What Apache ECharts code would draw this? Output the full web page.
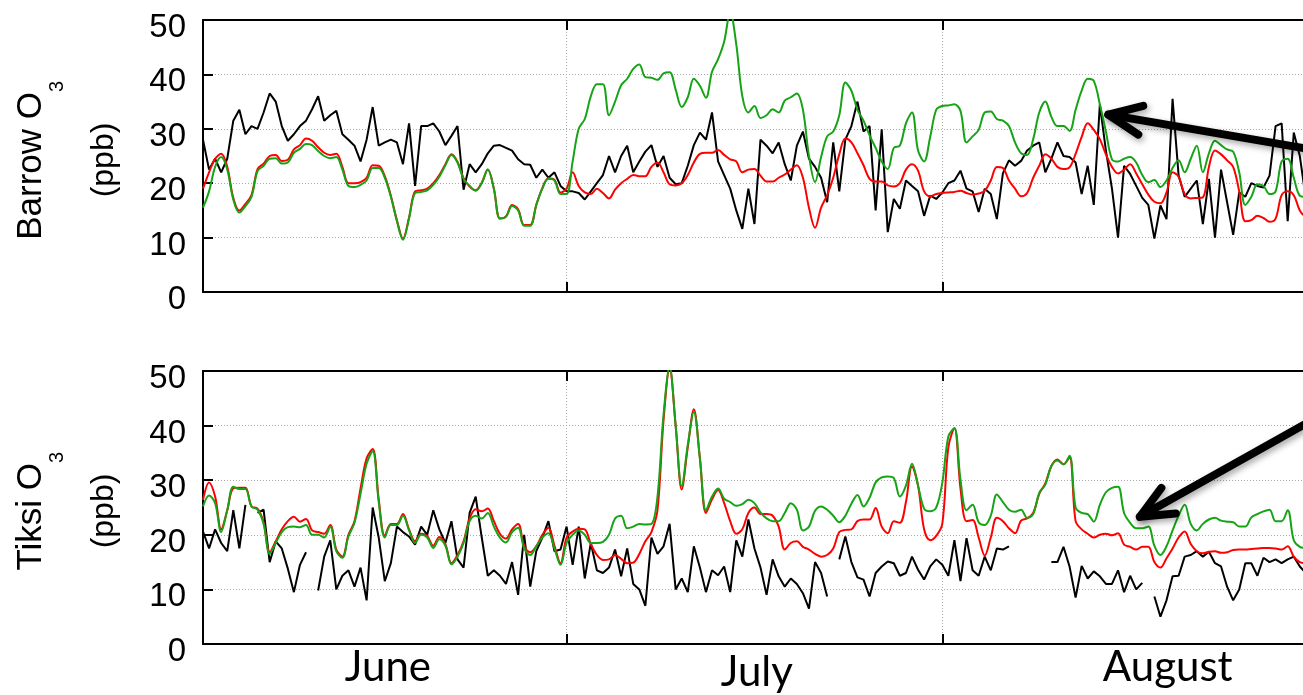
<!DOCTYPE html>
<html lang="en">

<head>
  <meta charset="UTF-8" />
  <title>Barrow / Tiksi O3</title>
  <style>
    html, body { margin: 0; padding: 0; background: #fff; }
    #main { width: 1303px; height: 695px; }
  </style>
</head>

<body>
  <div id="main"></div>
  <script src="https://cdn.jsdelivr.net/npm/echarts@6/dist/echarts.min.js"></script>
  <script type="text/javascript">
    // x = days since 1 June, one value every half day
    var STEP = 0.5

    var monthTicks = [30, 61]                 // 1 July, 1 August
    var monthPos = [15.26, 45.7, 79.6]        // where the month names sit
    var monthNames = ['June', 'July', 'August']

    // Barrow
    var barrowObs = [
      28, 22.5, 24.5, 22, 24.5, 31.5, 33.5, 29, 30.5, 30,
      33, 36.5, 35, 30.5, 27.8, 29, 30.5, 31.5, 33.6, 36,
      31.5, 32.5, 33.3, 29, 28, 26.9, 24, 28, 34, 26.9,
      27.5, 28, 27.5, 23.5, 31, 19.5, 30.5, 30.5, 31, 29.5,
      27, 28.7, 30.5, 18.8, 23.5, 22, 23.5, 25.5, 26.9, 27,
      26.5, 26, 24.4, 23.5, 23.4, 21, 22.5, 21, 22, 19.5,
      18.5, 18.5, 18.2, 17, 18.5, 20, 21.5, 25, 22, 25,
      26.9, 22, 24, 25.8, 27, 23, 25, 21, 19.8, 20,
      23.2, 27, 29.3, 28, 33, 24, 21.5, 19, 15, 11.6,
      19, 12.5, 28, 26.9, 25.5, 27.5, 23.5, 20.5, 26.9, 29.5,
      24.5, 23, 21, 16.5, 27.5, 18.5, 28, 30.5, 35, 29.5,
      30.5, 15, 29.9, 11, 17.1, 15.3, 20.5, 19.5, 18.5, 14,
      17.7, 17.1, 18.3, 20, 20.5, 22.3, 19, 18.5, 14.7, 19,
      18, 13.4, 21.8, 24.2, 23.2, 24.1, 26, 26.9, 27.5, 22,
      24.5, 27.5, 25, 24.8, 23.8, 18, 23.2, 16, 34.5, 26,
      19, 10, 23.2, 21.7, 19.5, 17.3, 16, 9.8, 15.9, 13.4,
      35.5, 21.4, 17.5, 19, 20.5, 12.5, 20.8, 10, 22.5, 16.5,
      10.5, 18.3, 17.5, 20, 19.5, 19.2, 21.4, 30.5, 31, 13,
      29.3, 25, 17, 18
    ]
    var barrowRed = [
      19, 22, 24.5, 25.4, 23, 17.3, 15, 16.2, 17.8, 22.6,
      23.6, 25, 25.2, 24.1, 24.3, 26.2, 27, 28.2, 27.8, 26.6,
      25.6, 25.2, 25.4, 23, 20, 20, 20.2, 21, 23.3, 23.2,
      21.3, 17.7, 13.2, 9.8, 13.7, 18.5, 18.7, 19, 20, 21.5,
      23.5, 25.3, 23.9, 20.9, 19.4, 18.7, 20.1, 22.5, 19, 13.5,
      13.9, 16, 15.2, 12.3, 12.3, 16, 19.1, 20.9, 20.6, 18.3,
      19, 22, 19.5, 18.3, 18, 19, 18.2, 17.2, 18.8, 20,
      20.8, 21.5, 21.3, 21.3, 23, 23.8, 22, 19.8, 19.6, 20,
      21.5, 23.8, 25.4, 25.6, 25.6, 26.1, 25.2, 24.4, 24, 22,
      22.5, 22.6, 21.4, 20.3, 20.3, 21, 21.6, 22.5, 23.3, 21,
      15.5, 11.8, 15.5, 17.8, 21, 25.3, 28.2, 27.5, 25.5, 23.3,
      20.8, 20.3, 20.3, 19.6, 19.4, 20, 22.5, 23.5, 22.3, 18.5,
      17.6, 18, 18.2, 18.3, 18.4, 18.6, 18.2, 17.9, 18.1, 18.6,
      20.5, 23, 22.8, 20.5, 19, 17.6, 18.2, 21, 23.2, 25.3,
      24.5, 23, 22.6, 22.9, 25.4, 28.5, 31, 29.8, 28.1, 25.3,
      23, 21.8, 22.5, 23.5, 21.8, 19.8, 17.9, 16.6, 16.3, 18.3,
      22, 21.2, 18, 17.2, 17.3, 17.4, 23, 26, 25.3, 24.2,
      23, 18.5, 13, 13.2, 14, 13.6, 12.9, 13.5, 17.8, 18.5,
      17.8, 15, 13.8, 13.5
    ]
    var barrowGreen = [
      15.5, 18.5, 23, 24.8, 22.5, 17, 14.6, 15.8, 17.5, 22.2,
      23.2, 24.5, 24.6, 23.6, 23.8, 25.6, 26.3, 27.2, 27, 25.9,
      25, 24.6, 24.8, 22.5, 19.5, 19.3, 19.7, 20.5, 22.8, 22.8,
      21, 17.5, 13, 9.6, 13.5, 18.2, 18.4, 18.7, 19.7, 21.2,
      23.3, 25.2, 23.8, 20.8, 19.5, 18.6, 20, 22.5, 19, 13.5,
      13.8, 15.8, 15, 12.2, 12.2, 16, 19, 20.8, 20.5, 18,
      18, 24, 30, 31.8, 36, 38.2, 38.2, 32.5, 35, 38,
      39.2, 41, 41.8, 39.5, 39.4, 39, 40.2, 40.4, 37.2, 34,
      35.8, 39.2, 37.9, 35.7, 40.5, 42.8, 46, 51.5, 45.5, 36,
      33, 34.2, 32, 32.5, 33.6, 33, 35.2, 35.8, 36.5, 33.5,
      25, 20.2, 24.8, 28.6, 29.5, 32.5, 38.5, 37, 33.5, 31.5,
      28.8, 26.5, 24, 22.6, 26.5, 26.9, 31, 33, 26, 24,
      28.5, 33.5, 34.2, 34.3, 34.5, 33.3, 27.5, 28.6, 29.8, 33,
      33.2, 31.8, 31.5, 30.5, 27.5, 25.5, 25.2, 28.1, 33, 35,
      32.2, 30.5, 30.5, 29.6, 33.5, 37, 39.2, 38.8, 34.5, 29.5,
      24.4, 24, 24.5, 24.8, 23.8, 21.5, 20.2, 20.6, 19.3, 20.5,
      22.8, 24.2, 22, 24.5, 26.9, 22, 25.5, 27.8, 27, 26.2,
      25.8, 22, 16, 17.5, 19.8, 19.5, 18, 18.5, 24, 24.5,
      21, 17.7, 17.5, 17.5
    ]

    // Tiksi
    var tiksiObs = [
      20.6, 17.5, 21, 18.5, 17, 24.5, 17.5, 25.5, null, 24,
      24.6, 15, 18.8, 17.5, 13.8, 9.5, 14.5, 16.8, null, 9.8,
      16, 19, 10, 12.5, 13.5, 10.5, 14, 8, 25, 19.5,
      11.5, 14.8, 21.5, 20.5, 19.7, 18.2, 21.5, 20, 24.5, 21,
      18.5, 22.5, 15.5, 14, 24, 27, 19.5, 12.5, 13.5, 12.5,
      11, 15, 9, 20, 10.5, 17, 19.5, 22.5, 17, 17.3,
      21.5, 14.5, 21.5, 12, 18.5, 13.5, 13, 14, 17.3, 12.4,
      17.5, 11, 10, 7, 19.5, 16.5, 17.9, 22, 10, 12,
      9.5, 17.9, 14, 9.5, 13.5, 12.6, 14.2, 9.5, 19, 16,
      22.8, 17.5, 14, 9, 15.5, 12.4, 10.5, 12, 11, 9.3,
      6.5, 15, 13, 8.7, null, 15.5, 19.7, 15, 12.2, 11.8,
      8.7, 13, 14.2, 15.1, 14.8, 12.5, 13, 16, 13.6, 11.8,
      14.2, 15.5, 14.5, 12.5, 19, 11.5, 19.4, 13.5, 12.5, 16,
      13.5, 17.5, 17.3, 17.9, null, null, null, null, null, null,
      15, 15, 17.8, 14.2, 8.5, 14.3, 12, 13.3, 12.4, 11,
      11, 13.5, 9.5, 12.5, 10, 11.2, null, 8.7, 5, 8,
      12.4, 12.5, 16, 16.3, 17, 16, 16.9, 14.8, 14.2, 10.5,
      8, 10, 14.8, 14.8, 12.5, 15.8, 15, 15.5, 14.8, 15.5,
      16, 14.2, 13, 13.5
    ]
    var tiksiRed = [
      26.4, 29.6, 27, 21, 24.5, 28.5, 28.6, 28.6, 25.2, 24.8,
      22.3, 16.8, 18.8, 21, 22.5, 23.3, 22.4, 22.9, 20.8, 20.5,
      20.2, 21.8, 17.3, 16, 20, 22.5, 28.5, 34, 35.7, 26.5,
      19.8, 22, 22, 23.8, 21, 18.8, 20.2, 19.8, 18, 19.6,
      18.3, 14.8, 16.3, 18.8, 23, 24.7, 24.3, 24.8, 22.5, 20.2,
      19.3, 21, 22, 18, 16.8, 17.9, 20, 21.3, 18, 14.8,
      19.5, 20.6, 21.1, 21, 18.3, 16.3, 15.4, 15.5, 16.3, 15.6,
      14.8, 14.9, 16.5, 18.8, 20.5, 24.5, 41, 50.5, 40, 28.3,
      36, 43, 34, 24, 26.5, 28.2, 25.8, 22.5, 20.2, 21,
      24, 25, 23.8, 23.8, 23.5, 21.5, 17.3, 18.5, 18.8, 17.8,
      17.3, 16.5, 16, 16.3, 17.5, 20.5, 20.9, 21, 22.5, 22.8,
      22.8, 24.9, 21.5, 20.3, 22.5, 22.2, 26, 32.5, 29, 21,
      19, 19.8, 22, 36, 39.5, 28.5, 22.5, 22.7, 19.5, 16.2,
      19.5, 23.1, 22.5, 21.2, 20.3, 22.6, 23, 24, 27.5, 29.4,
      32.6, 33.8, 32.9, 34.2, 22.5, 21, 20.2, 19.5, 20, 20.2,
      19.9, 20.3, 18.2, 17.8, 17.3, 17.8, 17.8, 15, 14, 15.7,
      17.5, 19.5, 20.6, 18.3, 17, 16.6, 16.9, 17, 16.7, 16.8,
      17.2, 17.3, 17.3, 17.4, 17.5, 17.6, 17.6, 17.5, 17.3, 17.9,
      16, 15, 14.8, 14.6
    ]
    var tiksiGreen = [
      25.2, 27.2, 25.8, 20.5, 24.5, 28.8, 28.4, 28.4, 25.2, 24.6,
      22, 16.5, 18.5, 20.5, 21.4, 21.5, 21.4, 21.8, 20, 20,
      19.5, 21.5, 17, 15.8, 19.7, 22.2, 27.5, 33, 35.3, 26,
      19.5, 21.8, 21.8, 23.5, 20.8, 18.5, 20, 19.5, 17.6, 19.2,
      18, 14.6, 16, 18.5, 22.5, 23.5, 23, 24, 21.5, 19.5,
      18.6, 20.5, 21.3, 17.5, 16.3, 17.9, 19.5, 20.3, 17.5, 14.5,
      18.5, 20, 20.8, 20, 18.5, 18.5, 18.7, 20, 23, 23.5,
      21.2, 21.5, 22, 21.9, 22, 27, 42, 50.8, 40, 28.9,
      36.5, 42.5, 34, 24.5, 27, 28.5, 26.6, 26, 25.3, 25.6,
      26.4, 25.8, 24.1, 23, 22.5, 22.5, 24, 25.8, 24.6, 20.8,
      21.5, 24.4, 25.2, 24.6, 23.5, 22.3, 23.5, 25.7, 27.3, 25.2,
      26.8, 29.6, 30.5, 30.7, 30.4, 27, 29, 33, 29, 24.8,
      24.3, 25, 29.5, 38, 39.5, 30.1, 24.5, 25.5, 22.3, 21.8,
      23.5, 27.4, 26, 24.6, 24.2, 24.6, 23.1, 23.8, 27.7, 29.2,
      32.6, 33.6, 32.9, 34.5, 25, 24, 23.8, 22.4, 25.5, 27.8,
      28.6, 28.8, 24, 22.2, 21.2, 21.2, 21.5, 18, 16.3, 17.9,
      20.8, 23.5, 25.5, 22, 20.8, 22, 22.8, 23.1, 22.6, 22.4,
      22.3, 21.5, 21.5, 23.2, 23.8, 24.3, 24.6, 22.5, 22.5, 24.5,
      19, 17.8, 17.6, 17.5
    ]

    // arrows, [tail, tip] in (day, ppb)
    var arrowBarrow = [[92, 26.0], [74.7, 32.6]]
    var arrowTiksi = [[92, 41.6], [77.3, 23.3]]

    function pairs(vals) {
      return vals.map((v, i) => [i * STEP, v])
    }

    var container = document.getElementById('main')
    var myChart = echarts.init(container)

    var frame = { lineStyle: { color: '#000', width: 2 } }
    var dotted = { show: true, lineStyle: { color: '#aaa', type: [1, 2], width: 1 } }

    function xAxisFor(grid, position, labels) {
      return {
        type: 'value', gridIndex: grid, position: position,
        min: 0, max: 92,
        axisLine: frame,
        axisTick: { show: true, inside: true, length: 10, customValues: monthTicks, lineStyle: { color: '#000', width: 2 } },
        splitLine: position === 'bottom' ? dotted : { show: false },
        axisLabel: labels ? {
          show: true,
          customValues: monthPos,
          margin: 2,
          formatter(v) {
            let i = monthPos.indexOf(v)
            let name = monthNames[i]
            return name === 'July' ? '{j|' + name + '}' : '{m|' + name + '}'
          },
          rich: {
            m: { fontFamily: 'Lato', fontSize: 42, color: '#000' },
            j: { fontFamily: 'Lato', fontSize: 42, color: '#000', padding: [5, 0, 0, 0] }
          }
        } : { show: false }
      }
    }

    function yAxisFor(grid) {
      return {
        type: 'value', gridIndex: grid,
        min: 0, max: 50, interval: 10,
        axisLine: frame,
        axisTick: { show: true, inside: true, length: 10, lineStyle: { color: '#000', width: 2 } },
        splitLine: dotted,
        axisLabel: {
          margin: 17, color: '#000',
          fontFamily: 'Liberation Sans', fontSize: 33,
          verticalAlign: 'top', lineHeight: 16
        }
      }
    }

    function line(name, data, color, xi, yi, smooth) {
      return {
        name, type: 'line', data: pairs(data),
        xAxisIndex: xi, yAxisIndex: yi,
        showSymbol: false, smooth: smooth,
        lineStyle: { color: color, width: 2 },
        itemStyle: { color: color }
      }
    }

    var option = {
      animation: false,
      backgroundColor: '#fff',
      // the frame runs on past the right edge of the picture (to 1 September)
      grid: [
        { left: 203, width: 1115, top: 20, height: 272, outerBoundsMode: 'none' },
        { left: 203, width: 1115, top: 371, height: 273, outerBoundsMode: 'none' }
      ],
      xAxis: [
        xAxisFor(0, 'bottom', false),
        xAxisFor(0, 'top', false),
        xAxisFor(1, 'bottom', true),
        xAxisFor(1, 'top', false)
      ],
      yAxis: [yAxisFor(0), yAxisFor(1)],
      series: [
        line('Barrow obs', barrowObs, '#000', 0, 0, false),
        line('Barrow red', barrowRed, '#ff0000', 0, 0, 0.35),
        line('Barrow green', barrowGreen, '#16a316', 0, 0, 0.35),
        line('Tiksi obs', tiksiObs, '#000', 2, 1, false),
        line('Tiksi red', tiksiRed, '#ff0000', 2, 1, 0.35),
        line('Tiksi green', tiksiGreen, '#16a316', 2, 1, 0.35)
      ]
    }
    myChart.setOption(option)

    // axis titles and the two arrows
    function axisTitle(name, endY, unitY) {
      let font = '35px "Liberation Sans"'
      return [
        { type: 'text', x: 31, y: endY, rotation: Math.PI / 2, z: 100,
          style: { text: name + ' O', font: font, fill: '#000', textAlign: 'right', align: 'right', textVerticalAlign: 'middle', verticalAlign: 'middle' } },
        { type: 'text', x: 57, y: endY, rotation: Math.PI / 2, z: 100,
          style: { text: '3', font: '20px "Liberation Sans"', fill: '#000', textAlign: 'left', align: 'left', textVerticalAlign: 'middle', verticalAlign: 'middle' } },
        { type: 'text', x: 104, y: unitY, rotation: Math.PI / 2, z: 100,
          style: { text: '(ppb)', font: '32px "Liberation Sans"', fill: '#000', textAlign: 'center', align: 'center', textVerticalAlign: 'middle', verticalAlign: 'middle' } }
      ]
    }

    function arrow(gridIndex, pts) {
      let tail = myChart.convertToPixel({ gridIndex }, pts[0])
      let tip = myChart.convertToPixel({ gridIndex }, pts[1])
      let dx = tail[0] - tip[0], dy = tail[1] - tip[1]
      let len = Math.sqrt(dx * dx + dy * dy)
      let ux = dx / len, uy = dy / len
      let a = 24 * Math.PI / 180, L = 36
      function arm(s) {
        let c = Math.cos(s * a), sn = Math.sin(s * a)
        return [tip[0] + L * (ux * c - uy * sn), tip[1] + L * (ux * sn + uy * c)]
      }
      let style = {
        stroke: '#000', lineWidth: 8, lineCap: 'round', lineJoin: 'round', fill: null,
        shadowBlur: 6, shadowColor: 'rgba(0,0,0,0.35)', shadowOffsetX: 2, shadowOffsetY: 3
      }
      return [
        { type: 'polyline', z: 100, shape: { points: [tail, tip] }, style },
        { type: 'polyline', z: 100, shape: { points: [arm(1), tip, arm(-1)] }, style }
      ]
    }

    myChart.setOption({
      graphic: [].concat(
        axisTitle('Barrow', 92, 160),
        axisTitle('Tiksi', 463, 511),
        arrow(0, arrowBarrow),
        arrow(1, arrowTiksi)
      )
    })
  </script>
</body>

</html>
